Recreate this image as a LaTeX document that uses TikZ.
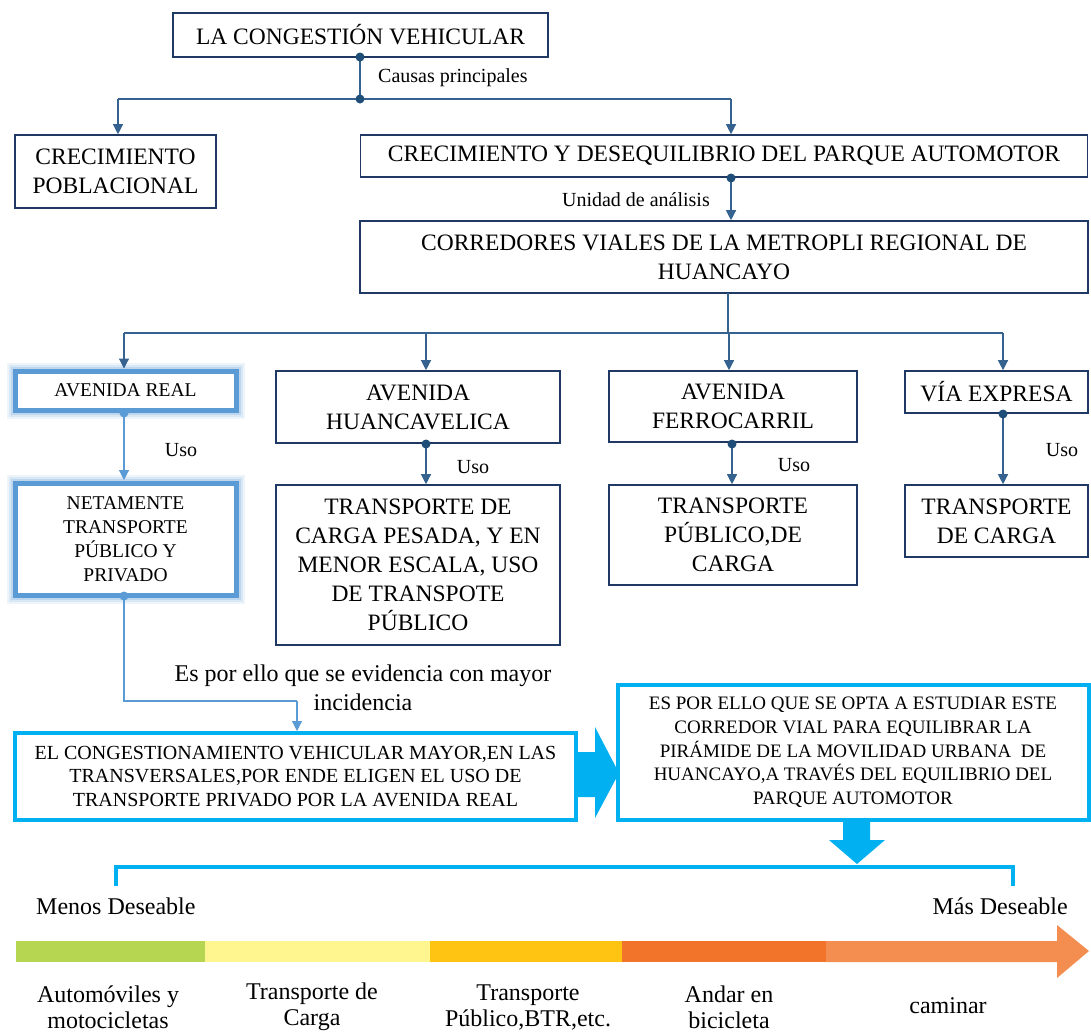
\documentclass[tikz,border=0pt]{standalone}
\usepackage{fontspec}
\setmainfont{Liberation Serif}
\usetikzlibrary{arrows.meta,positioning}
\definecolor{navy}{HTML}{203864}
\definecolor{steel}{HTML}{35628F}
\definecolor{dotc}{HTML}{1F4E79}
\definecolor{glowb}{HTML}{5B9BD5}
\definecolor{glowl}{HTML}{9DC3E6}
\definecolor{cyanb}{HTML}{00B0F0}
\definecolor{cgreen}{HTML}{B6D551}
\definecolor{cyell}{HTML}{FFF690}
\definecolor{corng}{HTML}{FFC312}
\definecolor{cor}{HTML}{F2732A}
\definecolor{clor}{HTML}{F48D50}
\tikzset{
  box/.style={draw=navy, line width=1.6pt, fill=white, align=center, inner sep=0pt,
    font=\fontsize{23.5}{29}\selectfont},
  glowbox/.style={draw=glowb, line width=5pt, fill=white, align=center, inner sep=0pt,
    font=\fontsize{19.5}{24}\selectfont,
    preaction={draw=glowl, line width=17pt, draw opacity=0.18},
    preaction={draw=glowl, line width=13pt, draw opacity=0.25},
    preaction={draw=glowl, line width=9pt, draw opacity=0.45}},
  cyanbox/.style={draw=cyanb, line width=4pt, fill=white, align=center, inner sep=0pt},
  conn/.style={draw=steel, line width=1.2pt},
  arr/.style={conn, -{Triangle[width=10pt,length=10pt]}},
  larr/.style={draw=glowb, line width=1.1pt, -{Triangle[width=10pt,length=10pt]}},
  lconn/.style={draw=glowb, line width=1.1pt},
  dotm/.style={fill=dotc},
  ldot/.style={fill=glowb},
  lbl/.style={font=\fontsize{20}{23}\selectfont, inner sep=0pt},
  txt/.style={font=\fontsize{24}{26}\selectfont, inner sep=0pt, align=center},
}
\begin{document}
\begin{tikzpicture}[x=1pt,y=-1pt]
\useasboundingbox (0,0) rectangle (1091,1034);

% ---------- boxes ----------
\node[box, minimum width=375, minimum height=44] (top) at (360.5,35) {LA CONGESTIÓN VEHICULAR};
\node[box, minimum width=201, minimum height=73] (pob) at (115.5,171.5) {CRECIMIENTO\\POBLACIONAL};
\node[box, minimum width=727, minimum height=42] (crec) at (724,156) {CRECIMIENTO Y DESEQUILIBRIO DEL PARQUE AUTOMOTOR};
\node[box, minimum width=728, minimum height=72] (corr) at (724,257) {CORREDORES VIALES DE LA METROPLI REGIONAL DE\\HUANCAYO};

\node[glowbox, minimum width=221, minimum height=39] (real) at (125.5,390.5) {AVENIDA REAL};
\node[glowbox, minimum width=221, minimum height=112] (neta) at (125.5,539.5) {NETAMENTE\\TRANSPORTE\\PÚBLICO Y\\PRIVADO};

\node[box, minimum width=284, minimum height=72] (huan) at (418,407) {AVENIDA\\HUANCAVELICA};
\node[box, minimum width=284, minimum height=160] (pesa) at (418,565) {TRANSPORTE DE\\CARGA PESADA, Y EN\\MENOR ESCALA, USO\\DE TRANSPOTE\\PÚBLICO};
\node[box, minimum width=248, minimum height=71] (ferr) at (733,406.5) {AVENIDA\\FERROCARRIL};
\node[box, minimum width=248, minimum height=100] (pubc) at (733,535) {TRANSPORTE\\PÚBLICO,DE\\CARGA};
\node[box, minimum width=183, minimum height=42] (via) at (996.5,392) {VÍA EXPRESA};
\node[box, minimum width=183, minimum height=72] (tcar) at (996.5,521) {TRANSPORTE\\DE CARGA};

\node[cyanbox, font=\fontsize{20}{23.5}\selectfont, minimum width=561, minimum height=87] (cong) at (295.5,776.5) {EL CONGESTIONAMIENTO VEHICULAR MAYOR,EN LAS\\TRANSVERSALES,POR ENDE ELIGEN EL USO DE\\TRANSPORTE PRIVADO POR LA AVENIDA REAL};
\node[cyanbox, font=\fontsize{19}{23.7}\selectfont, minimum width=471, minimum height=135] (opta) at (853,752.5) {ES POR ELLO QUE SE OPTA A ESTUDIAR ESTE\\CORREDOR VIAL PARA EQUILIBRAR LA\\PIRÁMIDE DE LA MOVILIDAD URBANA\ \ DE\\HUANCAYO,A TRAVÉS DEL EQUILIBRIO DEL\\PARQUE AUTOMOTOR};

% ---------- labels ----------
\node[lbl, anchor=west] (causas) at (378,78) {Causas principales};
\node[lbl, anchor=east] (unidad) at (710,200) {Unidad de análisis};
\node[lbl] (uso1) at (181,450) {Uso};
\node[lbl] (uso2) at (473,467) {Uso};
\node[lbl] (uso3) at (794,465) {Uso};
\node[lbl] (uso4) at (1062,450) {Uso};
\node[txt, font=\fontsize{24}{29}\selectfont] (espor) at (363,687.5) {Es por ello que se evidencia con mayor\\incidencia};

% ---------- connectors top ----------
\coordinate (d1) at (360,57);
\coordinate (j1) at (360,99);
\coordinate (jl) at (118,99);
\coordinate (jr) at (731,99);
\draw[conn] (d1) -- (j1);
\draw[conn] (jl) -- (jr);
\draw[arr] (jl) -- (jl |- pob.north);
\draw[arr] (jr) -- (jr |- crec.north);
\fill[dotm] (d1) circle (4.5);
\fill[dotm] (j1) circle (4.5);

\coordinate (d2) at (731,178);
\draw[arr] (d2) -- (d2 |- corr.north);
\fill[dotm] (d2) circle (4.5);

\coordinate (c0) at (728,293);
\coordinate (c1) at (728,333);
\coordinate (h1) at (124,333);
\coordinate (h2) at (426,333);
\coordinate (h3) at (729,333);
\coordinate (h4) at (1003,333);
\draw[conn] (c0) -- (c1);
\draw[conn] (h1) -- (h4);
\draw[arr] (h1) -- (h1 |- real.north);
\draw[arr] (h2) -- (h2 |- huan.north);
\draw[arr] (h3) -- (h3 |- ferr.north);
\draw[arr] (h4) -- (h4 |- via.north);

% ---------- Uso connectors ----------
\coordinate (r1) at (124,413);
\draw[larr] (r1) -- (124,480);
\fill[ldot] (r1) circle (4.5);

\coordinate (u2) at (426,444);
\draw[arr] (u2) -- (u2 |- pesa.north);
\fill[dotm] (u2) circle (4.5);
\coordinate (u3) at (732,444);
\draw[arr] (u3) -- (u3 |- pubc.north);
\fill[dotm] (u3) circle (4.5);
\coordinate (u4) at (1003,414);
\draw[arr] (u4) -- (u4 |- tcar.north);
\fill[dotm] (u4) circle (4.5);

\coordinate (n1) at (124,596);
\coordinate (n2) at (124,701);
\coordinate (n3) at (297,701);
\draw[lconn] (n1) -- (n2) -- (n3);
\draw[larr] (n3) -- (n3 |- cong.north);
\fill[ldot] (n1) circle (4.5);

% ---------- block arrows ----------
\fill[cyanb] (575,752) -- (595,752) -- (595,727) -- (619,773) -- (595,818) -- (595,797) -- (575,797) -- cycle;
\fill[cyanb] (843,819) -- (870,819) -- (870,840) -- (885,840) -- (857,864) -- (829,840) -- (843,840) -- cycle;

% ---------- bracket ----------
\coordinate (b1) at (116,886);
\coordinate (b2) at (116,867);
\coordinate (b3) at (1013,867);
\coordinate (b4) at (1013,886);
\draw[cyanb, line width=3.5pt] (b1) -- (b2) -- (b3) -- (b4);

\node[txt, anchor=west] (menos) at (36,906) {Menos Deseable};
\node[txt, anchor=east] (mas) at (1068,906) {Más Deseable};

% ---------- scale bar ----------
\fill[cgreen] (16,941) rectangle (205,962);
\fill[cyell] (205,941) rectangle (430,962);
\fill[corng] (430,941) rectangle (622,962);
\fill[cor] (622,941) rectangle (826,962);
\fill[clor] (826,941) -- (1057,941) -- (1057,925) -- (1089,951) -- (1057,978) -- (1057,962) -- (826,962) -- cycle;

\node[txt] (s1) at (108,1007) {Automóviles y\\motocicletas};
\node[txt] (s2) at (312,1007) {Transporte de\\Carga};
\node[txt] (s3) at (528,1007) {Transporte\\Público,BTR,etc.};
\node[txt] (s4) at (729,1007) {Andar en\\bicicleta};
\node[txt] (s5) at (948,1006) {caminar};
\end{tikzpicture}
\end{document}
